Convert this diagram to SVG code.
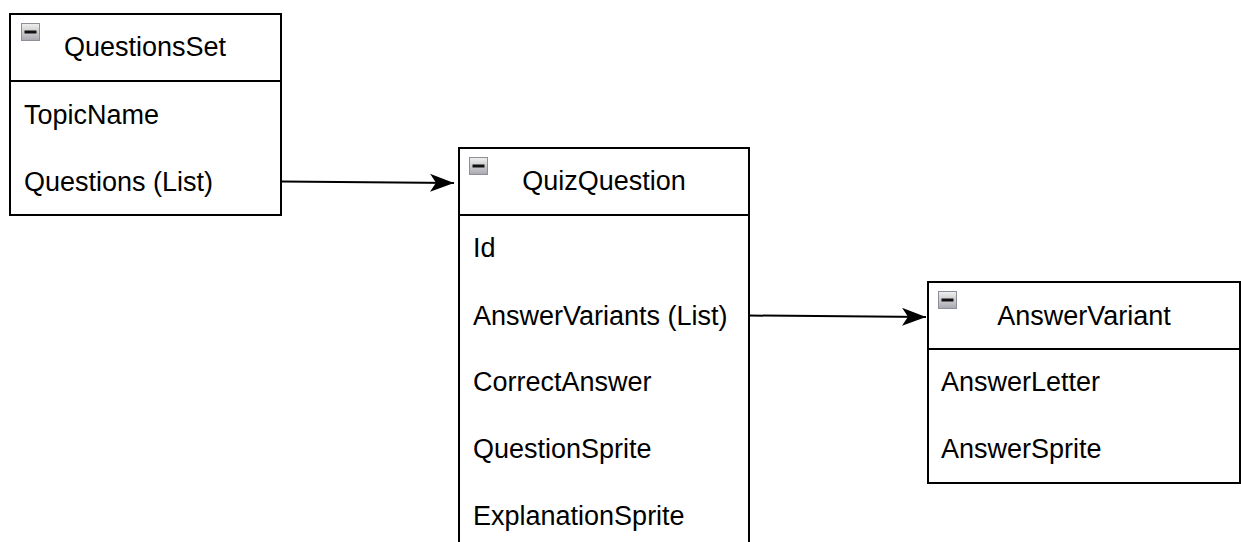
<svg xmlns="http://www.w3.org/2000/svg" width="1241" height="542" viewBox="0 0 1241 542">
  <style>
    .box { fill: #ffffff; stroke: #000000; stroke-width: 2; }
    .sep { stroke: #000000; stroke-width: 2; fill: none; }
    .title { font-family: "Liberation Sans", Arial, sans-serif; font-size: 27px; fill: #000000; text-anchor: middle; }
    .field { font-family: "Liberation Sans", Arial, sans-serif; font-size: 27px; fill: #000000; }
    .edge { stroke: #000000; stroke-width: 2; fill: none; }
  </style>
  <defs>
    <linearGradient id="iconFill" x1="0" y1="0" x2="0" y2="1">
      <stop offset="0" stop-color="#f0f0f0"/>
      <stop offset="1" stop-color="#a8a8b0"/>
    </linearGradient>
    <g id="collapse">
      <rect x="0.5" y="0.5" width="18" height="17" fill="url(#iconFill)" stroke="#8a8f9a" stroke-width="1"/>
      <rect x="3.5" y="7.5" width="12" height="3" fill="#111111"/>
    </g>
    <marker id="arrow" viewBox="0 0 24 18" refX="24" refY="9" markerWidth="24" markerHeight="18" markerUnits="userSpaceOnUse" orient="auto">
      <path d="M0,0 L24,9 L0,18 L6,9 Z" fill="#000000"/>
    </marker>
  </defs>

  <g id="QuestionsSet">
    <rect class="box" x="10" y="14" width="271" height="201"/>
    <line class="sep" x1="10" y1="81" x2="281" y2="81"/>
    <use href="#collapse" x="21" y="23"/>
    <text class="title" x="145" y="56">QuestionsSet</text>
    <text class="field" x="24" y="124">TopicName</text>
    <text class="field" x="24" y="191">Questions (List)</text>
  </g>

  <g id="QuizQuestion">
    <rect class="box" x="459" y="148" width="290" height="400"/>
    <line class="sep" x1="459" y1="215" x2="749" y2="215"/>
    <use href="#collapse" x="469" y="157"/>
    <text class="title" x="604" y="190">QuizQuestion</text>
    <text class="field" x="473" y="257">Id</text>
    <text class="field" x="473" y="325">AnswerVariants (List)</text>
    <text class="field" x="473" y="391">CorrectAnswer</text>
    <text class="field" x="473" y="458">QuestionSprite</text>
    <text class="field" x="473" y="525">ExplanationSprite</text>
  </g>

  <g id="AnswerVariant">
    <rect class="box" x="928" y="282" width="312" height="201"/>
    <line class="sep" x1="928" y1="349" x2="1240" y2="349"/>
    <use href="#collapse" x="938" y="291"/>
    <text class="title" x="1084" y="325">AnswerVariant</text>
    <text class="field" x="941" y="391">AnswerLetter</text>
    <text class="field" x="941" y="458">AnswerSprite</text>
  </g>

  <g id="connectors">
    <line class="edge" x1="281" y1="181.5" x2="454" y2="183" marker-end="url(#arrow)"/>
    <line class="edge" x1="749" y1="315.5" x2="926" y2="317" marker-end="url(#arrow)"/>
  </g>
</svg>
